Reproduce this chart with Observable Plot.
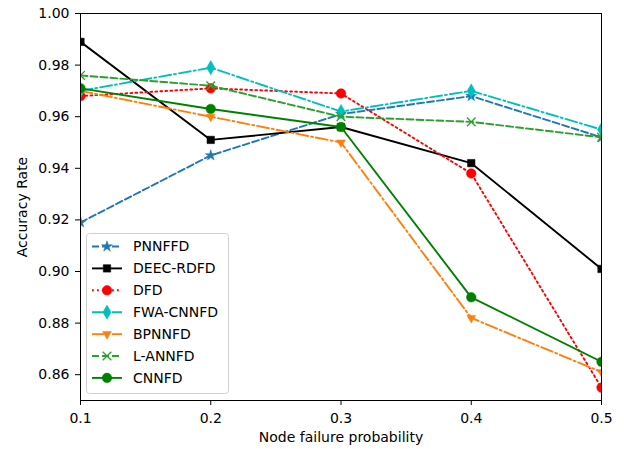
<!DOCTYPE html>
<html>
<head>
<meta charset="utf-8">
<script src="https://cdn.jsdelivr.net/npm/d3@7"></script>
<script src="https://cdn.jsdelivr.net/npm/@observablehq/plot@0.6"></script>
<style>
  html, body { margin: 0; padding: 0; background: white; }
</style>
</head>
<body>
<div id="chart"></div>
<script>
const probs = [0.1, 0.2, 0.3, 0.4, 0.5];
const xTicks = [0.1, 0.2, 0.3, 0.4, 0.5];
const yTicks = [0.86, 0.88, 0.90, 0.92, 0.94, 0.96, 0.98, 1.00];

const PNNFFD    = [0.919, 0.945, 0.961, 0.968, 0.952];
const DEEC_RDFD = [0.989, 0.951, 0.956, 0.942, 0.901];
const DFD       = [0.968, 0.971, 0.969, 0.938, 0.855];
const FWA_CNNFD = [0.970, 0.979, 0.962, 0.970, 0.955];
const BPNNFD    = [0.970, 0.960, 0.950, 0.882, 0.861];
const L_ANNFD   = [0.976, 0.972, 0.960, 0.958, 0.952];
const CNNFD     = [0.971, 0.963, 0.956, 0.890, 0.865];

const triangleDown = {
  draw(context, size) {
    const s = Math.sqrt(size / 0.75);
    const h = s * Math.sqrt(3) / 2;
    context.moveTo(0, h * 2 / 3);
    context.lineTo(-s / 2, -h / 3);
    context.lineTo(s / 2, -h / 3);
    context.closePath();
  }
};

const series = [
  {name: "PNNFFD", values: PNNFFD, color: "#1f77b4", dash: "7,3", symbol: "star", r: 3.4, fill: true},
  {name: "DEEC-RDFD", values: DEEC_RDFD, color: "#000000", dash: null, symbol: "square", r: 4.2, fill: true},
  {name: "DFD", values: DFD, color: "#ff0000", dash: "1.8,3.2", symbol: "circle", r: 4.8, fill: true},
  {name: "FWA-CNNFD", values: FWA_CNNFD, color: "#00bfbf", dash: "12,3,2,3", symbol: "diamond", r: 4.3, fill: true},
  {name: "BPNNFD", values: BPNNFD, color: "#ff7f0e", dash: "12,3,2,3", symbol: triangleDown, r: 4.3, fill: true},
  {name: "L-ANNFD", values: L_ANNFD, color: "#2ca02c", dash: "7,3", symbol: "times", r: 4.0, fill: false},
  {name: "CNNFD", values: CNNFD, color: "#008000", dash: null, symbol: "circle", r: 4.8, fill: true}
];

const LW = 1.9;
const FS = "14px";
const marks = [];
for (const s of series) {
  const data = probs.map((p, i) => ({x: p, y: s.values[i]}));
  marks.push(Plot.line(data, {x: "x", y: "y", stroke: s.color, strokeWidth: LW,
    strokeDasharray: s.dash || undefined, clip: true}));
  marks.push(Plot.dot(data, {x: "x", y: "y", symbol: s.symbol, r: s.r,
    fill: s.fill ? s.color : "none", stroke: s.color, strokeWidth: s.fill ? 0.5 : 1.3, clip: true}));
}

const chart = Plot.plot({
  width: 624,
  height: 449,
  marginLeft: 80,
  marginRight: 23,
  marginTop: 13,
  marginBottom: 49,
  style: {fontFamily: "DejaVu Sans", fontSize: FS, color: "#000", background: "white"},
  x: {domain: [0.1, 0.5]},
  y: {domain: [0.85, 1.0]},
  marks: [
    ...marks,
    Plot.frame({stroke: "#000", strokeWidth: 1}),
    Plot.axisX(xTicks, {tickSize: 5, tickPadding: 8, tickFormat: d3.format(".1f"),
      label: "Node failure probability", labelAnchor: "center", labelArrow: "none", labelOffset: 41}),
    Plot.axisY(yTicks, {tickSize: 5, tickPadding: 6, tickFormat: d3.format(".2f"),
      label: "Accuracy Rate", labelAnchor: "center", labelArrow: "none", labelOffset: 63})
  ]
});

document.getElementById("chart").appendChild(chart);

// Legend
const svg = d3.select(chart);
const lg = svg.append("g").attr("font-family", "DejaVu Sans").attr("font-size", FS)
  .attr("text-anchor", "start");
const box = {x: 86.5, y: 233.5, w: 142, h: 160};
lg.append("rect").attr("x", box.x).attr("y", box.y).attr("width", box.w).attr("height", box.h)
  .attr("rx", 3).attr("fill", "white").attr("fill-opacity", 0.8).attr("stroke", "#d0d0d0");
series.forEach((s, i) => {
  const cy = 246.5 + i * 21.9;
  lg.append("line").attr("x1", 92).attr("x2", 122).attr("y1", cy).attr("y2", cy)
    .attr("stroke", s.color).attr("stroke-width", LW)
    .attr("stroke-dasharray", s.dash || null);
  const sym = typeof s.symbol === "string"
    ? {star: d3.symbolStar, square: d3.symbolSquare, circle: d3.symbolCircle, diamond: d3.symbolDiamond, times: d3.symbolTimes}[s.symbol]
    : s.symbol;
  lg.append("path").attr("transform", `translate(107,${cy})`)
    .attr("d", d3.symbol(sym, s.r * s.r * Math.PI)())
    .attr("fill", s.fill ? s.color : "none").attr("stroke", s.color)
    .attr("stroke-width", s.fill ? 0.5 : 1.3);
  lg.append("text").attr("x", 133).attr("y", cy).attr("dy", "0.35em").attr("fill", "#000")
    .attr("text-anchor", "start").text(s.name);
});
</script>
</body>
</html>
